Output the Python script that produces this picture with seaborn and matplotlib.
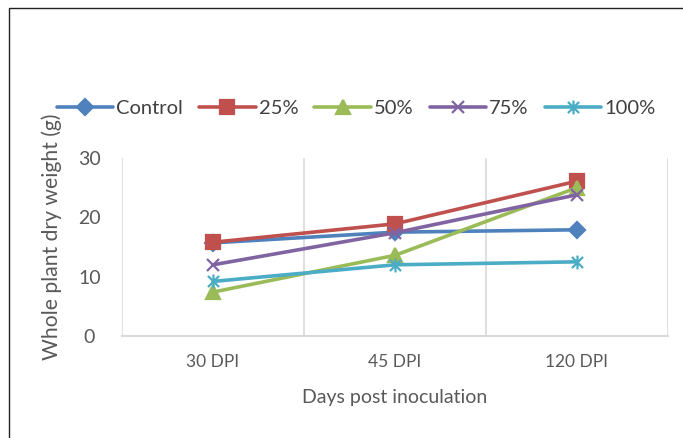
import matplotlib
matplotlib.use("Agg")
import matplotlib.pyplot as plt
import seaborn as sns
import pandas as pd
from matplotlib.path import Path
from matplotlib.patches import Rectangle
from matplotlib.lines import Line2D

# ---- data ----
days = ["30 DPI", "45 DPI", "120 DPI"]
series_names = ["Control", "25%", "50%", "75%", "100%"]
control = [15.7, 17.5, 17.9]
p25 = [15.8, 18.9, 26.1]
p50 = [7.4, 13.6, 25.0]
p75 = [12.0, 17.4, 23.8]
p100 = [9.2, 12.0, 12.5]
y_ticks = [0, 10, 20, 30]

colors = ["#4F81BD", "#C0504D", "#9BBB59", "#8064A2", "#4BACC6"]

# asterisk marker (x plus vertical bar)
ast = Path(
    [(-1, -1), (1, 1), (-1, 1), (1, -1), (0, -1.25), (0, 1.25)],
    [Path.MOVETO, Path.LINETO, Path.MOVETO, Path.LINETO, Path.MOVETO, Path.LINETO],
)
markers = ["D", "s", "^", "x", ast]
msizes = [8, 10, 10, 9, 10]

rows = []
for name, vals in zip(series_names, [control, p25, p50, p75, p100]):
    for i, (d, v) in enumerate(zip(days, vals)):
        rows.append({"pos": i, "day": d, "series": name, "value": v})
df = pd.DataFrame(rows)

sns.set_theme(style="white")
plt.rcParams["font.family"] = ["Lato", "DejaVu Sans"]

fig = plt.figure(figsize=(6.83, 4.38), dpi=100)
ax = fig.add_axes([122 / 683, 1 - 336 / 438, (668 - 122) / 683, (336 - 158) / 438])

for name, c, m, ms in zip(series_names, colors, markers, msizes):
    sub = df[df["series"] == name]
    sns.lineplot(
        data=sub, x="pos", y="value", color=c, marker=m, markersize=ms,
        markerfacecolor=c, markeredgecolor=c, markeredgewidth=1.6,
        linewidth=2.6, ax=ax, legend=False,
    )

ax.set_xlim(-0.5, 2.5)
ax.set_ylim(0, 30)
ax.set_yticks(y_ticks)
ax.set_xticks(range(len(days)))
ax.set_xticklabels(days)
for xv in [-0.5, 0.5, 1.5, 2.5]:
    ax.axvline(xv, color="#D9D9D9", lw=1.2, zorder=0)
for s in ["top", "right", "left"]:
    ax.spines[s].set_visible(False)
ax.spines["bottom"].set_color("#D9D9D9")
ax.spines["bottom"].set_linewidth(1.5)
ax.tick_params(axis="both", length=0, colors="#595959")
ax.tick_params(axis="x", pad=13, labelsize=12.5)
ax.tick_params(axis="y", pad=23.5, labelsize=14)
for t in ax.get_yticklabels():
    t.set_ha("center")
ax.set_xlabel("Days post inoculation", fontsize=14, color="#595959", labelpad=14)
ax.set_ylabel("Whole plant dry weight (g)", fontsize=15.2, color="#595959")
ax.yaxis.set_label_coords(-0.11, 0.556)

handles = [
    Line2D([0], [0], color=c, lw=2.6, marker=m, markersize=ms,
           markerfacecolor=c, markeredgecolor=c, markeredgewidth=1.6)
    for c, m, ms in zip(colors, markers, msizes)
]
fig.legend(handles, series_names, loc="center", bbox_to_anchor=(356 / 683, 1 - 108 / 438),
           ncol=5, frameon=False, fontsize=14.5, handlelength=2.8, handletextpad=0.15,
           columnspacing=0.8, labelcolor="#404040")

fig.patches.append(Rectangle((9 / 683, -0.2), 1.2, 1 - 8 / 438 + 0.2,
                             transform=fig.transFigure, fill=False,
                             edgecolor="#222222", lw=1.0))

fig.savefig("out.png", dpi=100)
